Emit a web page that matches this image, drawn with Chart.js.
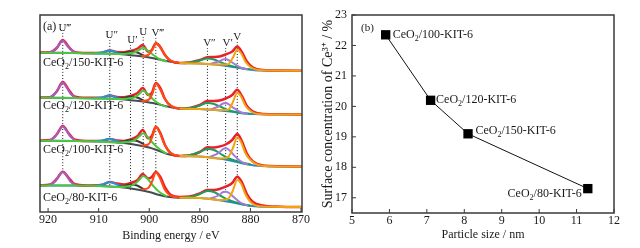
<!DOCTYPE html>
<html>
<head>
<meta charset="utf-8">
<script src="https://cdn.jsdelivr.net/npm/chart.js@4.4.0/dist/chart.umd.min.js"></script>
<style>
html, body { margin: 0; padding: 0; background: #fff; }
#wrap { position: relative; width: 640px; height: 248px; }
.box { position: absolute; top: 0; width: 320px; height: 248px; }
</style>
</head>
<body>
<div id="wrap">
  <div class="box" style="left:0"><canvas id="xps" width="320" height="248"></canvas></div>
  <div class="box" style="left:320px"><canvas id="size" width="320" height="248"></canvas></div>
</div>
<script>
// ---- panel (a): Ce 3d XPS, [binding energy eV, intensity a.u.] ----
const energyTicks = [920, 910, 900, 890, 880, 870];
const sampleNames = ["150-KIT-6", "120-KIT-6", "100-KIT-6", "80-KIT-6"];
const peakNames = ["U\u2034", "U\u2033", "U\u2032", "U", "V\u2034", "V\u2033", "V\u2032", "V"];
const peakEnergy = [917.1, 907.8, 903.7, 901.2, 898.7, 888.5, 884.9, 882.6];

// CeO2/150-KIT-6
const env150 = [[921.6,159.5],[919.6,159.8],[918.3,164],[917.1,172],[915.9,165],[914.8,160],[912.5,159],[909.5,159.3],[907.8,161.5],[906.4,160],[905,159.8],[903.7,161],[902.3,163.5],[901.3,167],[900.2,160.3],[899.5,162],[898.7,168.7],[897.8,165],[896.9,157],[895.7,151],[894,149],[892,149.5],[890,152],[888.5,154.7],[887.2,155],[886.1,155.5],[884.9,157.5],[883.6,160.5],[882.6,165.5],[881.7,160],[880.7,150.5],[879.5,144.5],[877.5,142],[874,141.5],[869.8,141.3]];
const bg150 = [[921.6,159.3],[915,159],[910,158.5],[906,158],[903,156.5],[900,154.5],[898,152.5],[896,150.5],[894,149],[890,148.5],[887,147.5],[884,145.5],[881,143],[878,141.5],[869.8,141.3]];
const u3_150 = [[919.8,159.5],[918.6,162.5],[917.8,167.5],[917.1,171.5],[916.4,167.5],[915.6,162.5],[914.4,159.2]];
const u2_150 = [[911,158.7],[909.3,159.5],[907.8,161.5],[906.4,159.5],[905,157.8]];
const u1_150 = [[906.5,158.2],[905,159],[903.7,160.5],[902.4,159.5],[901,156]];
const u_150 = [[921.6,159.3],[915,159],[910,158.5],[906,158],[904.5,158.3],[903,159.5],[902,162],[901.2,164.5],[900.3,161.5],[899.2,157],[898,153],[896.5,150.5]];
const v3_150 = [[901.5,156],[900.2,157],[899.4,162],[898.7,168.5],[897.9,165],[897,158],[896,152],[895,150],[894,149]];
const v2_150 = [[894,149],[892,149.5],[890,151.5],[888.5,153.5],[887.2,152.5],[886,150],[884.5,147],[882.5,144.5],[880,142.5]];
const v1_150 = [[888,148],[886.3,150.5],[885.4,152.5],[884.9,153],[884.2,151.5],[883.3,148.5],[882,144.5],[880.5,142.5]];
const v_150 = [[894,149],[890,148.5],[886,147.5],[884.5,147.5],[883.5,154],[882.6,162.3],[881.8,158.5],[881,150.5],[880,145],[878.5,142],[876,141.5],[869.8,141.3]];

// CeO2/120-KIT-6
const env120 = [[921.6,114.5],[919.6,114.8],[918.3,120.5],[917.1,130],[915.9,122],[914.8,115.5],[912.5,114.2],[909.5,114.3],[907.8,116.5],[906.4,115],[905,114.8],[903.7,116],[902.3,119],[901.3,124],[900.2,117],[899.5,119],[898.7,129],[897.8,124],[896.9,113],[895.7,106],[894,103.5],[892,104],[890,107],[888.5,111],[887.2,111],[886.1,111.5],[884.9,113.5],[883.6,117],[882.6,122.3],[881.7,116],[880.7,106],[879.5,100.5],[877.5,98],[874,97.7],[869.8,97.5]];
const bg120 = [[921.6,114.3],[915,114],[910,113.5],[906,113],[903,111.5],[900,109.5],[898,107.5],[896,105],[894,103.5],[890,103],[887,102],[884,100.5],[881,98.5],[878,97.7],[869.8,97.5]];
const u3_120 = [[919.8,114.5],[918.6,118.5],[917.8,125],[917.1,129.5],[916.4,125],[915.6,118.5],[914.4,114.2]];
const u2_120 = [[911,113.7],[909.3,114.5],[907.8,116.5],[906.4,114.5],[905,112.8]];
const u1_120 = [[906.5,113.2],[905,114],[903.7,115.5],[902.4,114.5],[901,111]];
const u_120 = [[921.6,114.3],[915,114],[910,113.5],[906,113],[904.5,113.3],[903,114.5],[902,118],[901.2,121.5],[900.3,118],[899.2,112.5],[898,108],[896.5,105]];
const v3_120 = [[901.5,111],[900.2,112],[899.4,118],[898.7,128.5],[897.9,123],[897,114],[896,107],[895,104.5],[894,103.5]];
const v2_120 = [[894,103.5],[892,104],[890,106.5],[888.5,109],[887.2,108],[886,105.5],[884.5,102],[882.5,99.5],[880,98]];
const v1_120 = [[888,102.5],[886.3,105.5],[885.4,108.5],[884.9,109],[884.2,107.5],[883.3,104],[882,100],[880.5,98]];
const v_120 = [[894,103.5],[890,103],[886,102],[884.5,102],[883.5,109.5],[882.6,119.5],[881.8,115],[881,106.5],[880,101],[878.5,98],[876,97.6],[869.8,97.5]];

// CeO2/100-KIT-6
const env100 = [[921.6,71.5],[919.6,72],[918.3,77.5],[917.1,86],[915.9,78.5],[914.8,72.5],[912.5,71],[909.5,71],[907.8,73],[906.4,71.5],[905,71],[903.7,72.5],[902.3,76],[901.3,82],[900.2,73.7],[899.5,76],[898.7,85.3],[897.8,79],[896.9,67],[895.7,58.5],[894,56],[892,56.5],[890,60],[888.5,64.7],[887.2,64.5],[886.1,65.5],[884.9,67.5],[883.6,72],[882.6,78],[881.7,71],[880.7,58.5],[879.5,50.5],[877.5,46.5],[874,45.8],[869.8,45.5]];
const bg100 = [[921.6,71.3],[915,71],[910,70.5],[906,69.5],[903,67.5],[900,64.5],[898,61],[896,57.5],[894,56],[890,55.5],[887,54],[884,51.5],[881,48],[878,46],[869.8,45.5]];
const u3_100 = [[919.8,71.5],[918.6,75.5],[917.8,81.5],[917.1,85.5],[916.4,81.5],[915.6,75.5],[914.4,71.2]];
const u2_100 = [[911,70.7],[909.3,71.5],[907.8,73],[906.4,71],[905,69]];
const u1_100 = [[906.5,69.5],[905,70.5],[903.7,72],[902.4,71],[901,67.5]];
const u_100 = [[921.6,71.3],[915,71],[910,70.5],[906,69.5],[904.5,70],[903,71.5],[902,75.5],[901.2,78.7],[900.3,75],[899.2,68.5],[898,63],[896.5,58]];
const v3_100 = [[901.5,66.5],[900.2,67.5],[899.4,75],[898.7,85],[897.9,79],[897,68],[896,60],[895,57],[894,56]];
const v2_100 = [[894,56],[892,57],[890,60],[888.5,63],[887.2,62],[886,58.5],[884.5,54],[882.5,50.5],[880,47.5]];
const v1_100 = [[888,55],[886.3,59],[885.4,63],[884.9,63.7],[884.2,62],[883.3,57],[882,51],[880.5,47.5]];
const v_100 = [[894,56],[890,55.5],[886,53.5],[884.5,54.5],[883.5,63.5],[882.6,74.5],[881.8,69.5],[881,59],[880,52],[878.5,47],[876,45.8],[869.8,45.5]];

// CeO2/80-KIT-6
const env80 = [[921.6,26.7],[919.6,27.5],[918.3,33],[917.1,40.3],[915.9,34],[914.8,28],[912.5,26.5],[909.5,27],[907.8,30],[906.4,28.5],[905,27.5],[903.7,29],[902.3,32],[901.3,38],[900.2,33.5],[899.5,35],[898.7,40],[897.8,35],[896.9,25],[895.7,17],[894,15],[892,15.5],[890,18.5],[888.5,22],[887.2,22],[886.1,23],[884.9,25.3],[883.6,29],[882.6,35.3],[881.7,30],[880.7,18],[879.5,10],[877.5,6.5],[874,5.3],[869.8,5]];
const bg80 = [[921.6,26.5],[915,26.5],[910,26],[906,25],[903,23],[900,20],[898,17],[896,15],[894,14.2],[890,14],[887,12.5],[884,10],[881,7],[878,5.3],[869.8,5]];
const u3_80 = [[919.8,26.7],[918.6,30.5],[917.8,36.5],[917.1,40],[916.4,36.5],[915.6,30.5],[914.4,26.5]];
const u2_80 = [[911,26],[909.3,27.5],[907.8,30],[906.4,27.5],[905,24.5]];
const u1_80 = [[906.5,25],[905,26],[903.7,27.5],[902.4,26.5],[901,22.5]];
const u_80 = [[921.6,26.5],[915,26.5],[910,26],[906,25],[904.5,25.5],[903,27.5],[902,32],[901.2,36],[900.3,33],[899.2,26],[898,20],[896.5,15.5]];
const v3_80 = [[901.5,22.5],[900.2,24],[899.4,31],[898.7,39.5],[897.9,34],[897,23],[896,17],[895,15],[894,14.2]];
const v2_80 = [[894,14.2],[892,15],[890,18],[888.5,21],[887.2,20],[886,16.5],[884.5,12.5],[882.5,9],[880,6]];
const v1_80 = [[888,13.5],[886.3,16.5],[885.4,20],[884.9,20.3],[884.2,19],[883.3,15],[882,9.5],[880.5,6.5]];
const v_80 = [[894,14.2],[890,14],[886,12],[884.5,13],[883.5,21],[882.6,32],[881.8,28],[881,18],[880,10],[878.5,6],[876,5.2],[869.8,5]];

// dotted guide lines: intensity where each starts (under its label) and ends
const guideTop = [179, 172, 167, 175, 174, 164, 164, 170];
const guideBottom = [40, 26, 20, 36, 40, 21, 20, 35];

// ---- panel (b): Ce3+ fraction vs particle size ----
const sizeTicks = [5, 6, 7, 8, 9, 10, 11, 12];
const ceTicks = [17, 18, 19, 20, 21, 22, 23];
const sizeNames = ["100-KIT-6", "120-KIT-6", "150-KIT-6", "80-KIT-6"];
const particleSize = [5.9, 7.1, 8.1, 11.3];
const ce3Fraction = [22.35, 20.2, 19.1, 17.3];

const serif = "'Liberation Serif', 'Times New Roman', serif";
const ink = "#1a1a1a";

const spectra = [
  { env: env150, bg: bg150, comps: [u3_150, u2_150, u1_150, u_150, v3_150, v2_150, v1_150, v_150] },
  { env: env120, bg: bg120, comps: [u3_120, u2_120, u1_120, u_120, v3_120, v2_120, v1_120, v_120] },
  { env: env100, bg: bg100, comps: [u3_100, u2_100, u1_100, u_100, v3_100, v2_100, v1_100, v_100] },
  { env: env80, bg: bg80, comps: [u3_80, u2_80, u1_80, u_80, v3_80, v2_80, v1_80, v_80] }
];
const compColors = ["#a65cc6", "#1f95dc", "#3c3c3c", "#4cc63a", "#ff4a12", "#1c9e5a", "#a57ad8", "#f2a40e"];

function pts(arr) {
  return arr.map(p => ({ x: p[0], y: p[1] }));
}

function co2Label(ctx, name, x, y, alignRight) {
  const main = "12px " + serif, sub = "8px " + serif;
  ctx.font = main;
  const w1 = ctx.measureText("CeO").width;
  const w3 = ctx.measureText("/" + name).width;
  ctx.font = sub;
  const w2 = ctx.measureText("2").width;
  const left = alignRight ? x - (w1 + w2 + w3) : x;
  ctx.fillStyle = ink;
  ctx.textAlign = "left";
  ctx.textBaseline = "middle";
  ctx.font = main;
  ctx.fillText("CeO", left, y);
  ctx.font = sub;
  ctx.fillText("2", left + w1, y + 4);
  ctx.font = main;
  ctx.fillText("/" + name, left + w1 + w2, y);
}

function frame(chart, ticksX, ticksY) {
  const ctx = chart.ctx, a = chart.chartArea;
  ctx.save();
  ctx.strokeStyle = "#3a3a3a";
  ctx.lineWidth = 1.5;
  ctx.strokeRect(a.left, a.top, a.right - a.left, a.bottom - a.top);
  ctx.lineWidth = 1;
  ctx.beginPath();
  ticksX.forEach(v => {
    const px = chart.scales.x.getPixelForValue(v);
    ctx.moveTo(px, a.bottom);
    ctx.lineTo(px, a.bottom - 4);
  });
  ticksY.forEach(v => {
    const py = chart.scales.y.getPixelForValue(v);
    ctx.moveTo(a.left, py);
    ctx.lineTo(a.left + 4, py);
  });
  ctx.stroke();
  ctx.restore();
}

// ---------------- panel (a) ----------------
const xpsSets = [];
peakEnergy.forEach((e, i) => {
  xpsSets.push({
    data: [{ x: e, y: guideTop[i] }, { x: e, y: guideBottom[i] }],
    borderColor: "#111", borderWidth: 1, borderDash: [1, 2], order: 20
  });
});
spectra.forEach(s => {
  xpsSets.push({
    data: pts(s.bg), borderWidth: 2, order: 12,
    borderColor: "#2a86d0",
    segment: {
      borderColor: c => (c.p0.parsed.x <= 906 && c.p1.parsed.x >= 893.9) ? "#464b54" : "#2a86d0"
    }
  });
  xpsSets.push({ data: pts(s.env), borderColor: "#e8202c", borderWidth: 2.5, order: 10 });
  s.comps.forEach((c, k) => {
    xpsSets.push({ data: pts(c), borderColor: compColors[k], borderWidth: 2, order: 9 - k });
  });
});

const peakLabelH = [184, 177, 172, 180, 179, 169, 169, 175];
const sampleLabelH = [149, 106, 62, 14.5];

new Chart(document.getElementById("xps"), {
  type: "line",
  data: { datasets: xpsSets },
  options: {
    responsive: false,
    animation: false,
    layout: { padding: { left: 40, right: 18, top: 15, bottom: 0 } },
    plugins: { legend: { display: false }, tooltip: { enabled: false } },
    elements: {
      point: { radius: 0 },
      line: { cubicInterpolationMode: "monotone", fill: false }
    },
    scales: {
      x: {
        type: "linear", reverse: true, min: 869.8, max: 921.6,
        afterBuildTicks: s => { s.ticks = energyTicks.map(v => ({ value: v })); },
        afterFit: s => { s.height = 36; },
        grid: { display: false, drawTicks: false },
        border: { display: false },
        ticks: { padding: 1, color: ink, autoSkip: false, maxRotation: 0, font: { family: serif, size: 12 } },
        title: { display: true, text: "Binding energy / eV", color: ink, font: { family: serif, size: 12 }, padding: { top: 0, bottom: 5 } }
      },
      y: { display: false, min: 0, max: 197 }
    }
  },
  plugins: [{
    id: "xpsDecor",
    afterDraw(chart) {
      const ctx = chart.ctx, x = chart.scales.x, y = chart.scales.y;
      frame(chart, energyTicks, []);
      ctx.save();
      ctx.fillStyle = ink;
      ctx.textAlign = "center";
      ctx.textBaseline = "middle";
      ctx.font = "11px " + serif;
      peakNames.forEach((t, i) => {
        ctx.fillText(t, x.getPixelForValue(peakEnergy[i]) + (t.length > 1 ? 2 : 0), y.getPixelForValue(peakLabelH[i]));
      });
      sampleNames.forEach((n, i) => {
        co2Label(ctx, n, chart.chartArea.left + 3, y.getPixelForValue(sampleLabelH[i]), false);
      });
      ctx.font = "12px " + serif;
      ctx.textAlign = "left";
      ctx.fillStyle = ink;
      ctx.fillText("(a)", chart.chartArea.left + 3, chart.chartArea.top + 12);
      ctx.restore();
    }
  }]
});

// ---------------- panel (b) ----------------
const labelOffsets = [[7, 0, false], [5.5, 0, false], [7.5, -3, false], [-6, 5, true]];

new Chart(document.getElementById("size"), {
  type: "line",
  data: {
    datasets: [{
      data: particleSize.map((v, i) => ({ x: v, y: ce3Fraction[i] })),
      borderColor: "#111", borderWidth: 1, tension: 0,
      pointStyle: "rect", pointRadius: 6.6,
      pointBackgroundColor: "#000", pointBorderColor: "#000", pointBorderWidth: 0
    }]
  },
  options: {
    responsive: false,
    animation: false,
    layout: { padding: { left: 0, right: 26, top: 15, bottom: 0 } },
    plugins: { legend: { display: false }, tooltip: { enabled: false } },
    scales: {
      x: {
        type: "linear", min: 5, max: 12,
        afterBuildTicks: s => { s.ticks = sizeTicks.map(v => ({ value: v })); },
        afterFit: s => { s.height = 35; },
        grid: { display: false, drawTicks: false },
        border: { display: false },
        ticks: { padding: 1, color: ink, autoSkip: false, maxRotation: 0, font: { family: serif, size: 12 } },
        title: { display: true, text: "Particle size / nm", color: ink, font: { family: serif, size: 12 }, padding: { top: 0, bottom: 6 } }
      },
      y: {
        type: "linear", min: 16.5, max: 23,
        afterBuildTicks: s => { s.ticks = ceTicks.map(v => ({ value: v })); },
        afterFit: s => { s.width = 32; },
        grid: { display: false, drawTicks: false },
        border: { display: false },
        ticks: { padding: 5, color: ink, autoSkip: false, font: { family: serif, size: 12 } },
        title: { display: true, text: "Surface concentration of Ce\u00b3\u207a / %", color: ink, font: { family: serif, size: 14 }, padding: { top: 0, bottom: 0 } }
      }
    }
  },
  plugins: [{
    id: "sizeDecor",
    afterDraw(chart) {
      const ctx = chart.ctx;
      frame(chart, sizeTicks, ceTicks);
      const meta = chart.getDatasetMeta(0);
      ctx.save();
      meta.data.forEach((p, i) => {
        const o = labelOffsets[i];
        co2Label(ctx, sizeNames[i], p.x + o[0], p.y + o[1], o[2]);
      });
      ctx.font = "11px " + serif;
      ctx.textAlign = "left";
      ctx.textBaseline = "middle";
      ctx.fillStyle = ink;
      ctx.fillText("(b)", chart.chartArea.left + 9, chart.chartArea.top + 13);
      ctx.restore();
    }
  }]
});
</script>
</body>
</html>
